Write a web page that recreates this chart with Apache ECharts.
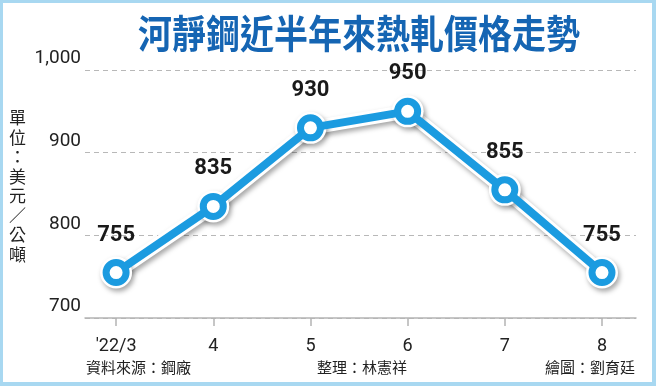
<!DOCTYPE html>
<html>
<head>
<meta charset="utf-8">
<script src="https://cdn.jsdelivr.net/npm/echarts@6/dist/echarts.min.js"></script>
<style>
html,body{margin:0;padding:0;background:#fff;}
#wrap{position:relative;width:656px;height:386px;}
#chart{position:absolute;left:0;top:0;width:656px;height:386px;}
#frame{position:absolute;left:0;top:0;width:656px;height:386px;box-sizing:border-box;border:3px solid #a8d8f1;border-right-width:4px;border-bottom-width:4px;pointer-events:none;}
</style>
</head>
<body>
<div id="wrap"><div id="chart"></div><div id="frame"></div></div>
<script>
const title = '河靜鋼近半年來熱軋價格走勢';
const unitLabel = '單位：美元／公噸';
const categories = ["'22/3", '4', '5', '6', '7', '8'];
const prices = [755, 835, 930, 950, 855, 755];
const yTicks = [700, 800, 900, 1000];
const sourceText = '資料來源：鋼廠';
const editorText = '整理：林憲祥';
const artistText = '繪圖：劉育廷';

const points = prices.map((v, i) => [i, v]);
const idx = categories.map((c, i) => i);

const chart = echarts.init(document.getElementById('chart'));
const font = 'Roboto, "Noto Sans", "Noto Sans CJK TC", sans-serif';
const cjk = '"Noto Sans CJK TC", "Noto Sans CJK SC", sans-serif';

chart.setOption({
  animation: false,
  backgroundColor: '#ffffff',
  grid: {left: 85, right: 20, top: 70, bottom: 68},
  xAxis: {
    type: 'value',
    min: -0.32,
    max: 5.35,
    splitLine: {show: false},
    axisLine: {show: true, lineStyle: {color: '#b4b4b4', width: 1.5}},
    axisTick: {show: true, customValues: idx, length: 8, inside: false, lineStyle: {color: '#b4b4b4', width: 1.5}},
    axisLabel: {
      customValues: idx,
      formatter: v => categories[Math.round(v)],
      color: '#222', fontSize: 18, fontFamily: font, margin: 20
    }
  },
  yAxis: {
    type: 'value',
    min: yTicks[0], max: yTicks[yTicks.length - 1], interval: 100,
    axisLine: {show: false},
    axisTick: {show: false},
    splitLine: {show: true, lineStyle: {color: '#b8b8b8', type: [5, 4], width: 1}},
    axisLabel: {
      formatter: v => v.toLocaleString('en-US'),
      color: '#222', fontSize: 19, fontFamily: font,
      verticalAlign: 'bottom', margin: 4, padding: [0, 0, 2, 0]
    }
  },
  series: [
    {
      type: 'line',
      data: points,
      z: 1,
      silent: true,
      symbol: 'circle',
      symbolSize: 32,
      itemStyle: {color: '#ffffff', shadowColor: 'rgba(0,0,0,0.35)', shadowBlur: 5, shadowOffsetX: 2, shadowOffsetY: 3},
      lineStyle: {color: '#ffffff', width: 14, shadowColor: 'rgba(0,0,0,0.35)', shadowBlur: 5, shadowOffsetX: 2, shadowOffsetY: 3}
    },
    {
      type: 'line',
      data: points,
      z: 3,
      symbol: 'circle',
      symbolSize: 20,
      itemStyle: {color: '#ffffff', borderColor: '#1b9be0', borderWidth: 7},
      lineStyle: {color: '#1b9be0', width: 8},
      label: {
        show: true, position: 'top', distance: 13,
        formatter: p => String(p.value[1]),
        color: '#1a1a1a', fontSize: 22, fontWeight: 'bold', fontFamily: font
      }
    }
  ],
  graphic: [
    {type: 'text', x: 138, y: 14, scaleY: 1.13, style: {text: title, fill: '#1565b3', font: 'bold 34px ' + cjk, verticalAlign: 'top'}},
    {type: 'text', left: 9, top: 108, style: {text: unitLabel.split('').join('\n'), fill: '#222', font: '17px ' + cjk, lineHeight: 19.5, align: 'center'}},
    {type: 'text', left: 86, top: 360, style: {text: sourceText, fill: '#222', font: '15px ' + cjk}},
    {type: 'text', left: 317, top: 360, style: {text: editorText, fill: '#222', font: '15px ' + cjk}},
    {type: 'text', right: 21, top: 360, style: {text: artistText, fill: '#222', font: '15px ' + cjk}}
  ]
});
</script>
</body>
</html>
